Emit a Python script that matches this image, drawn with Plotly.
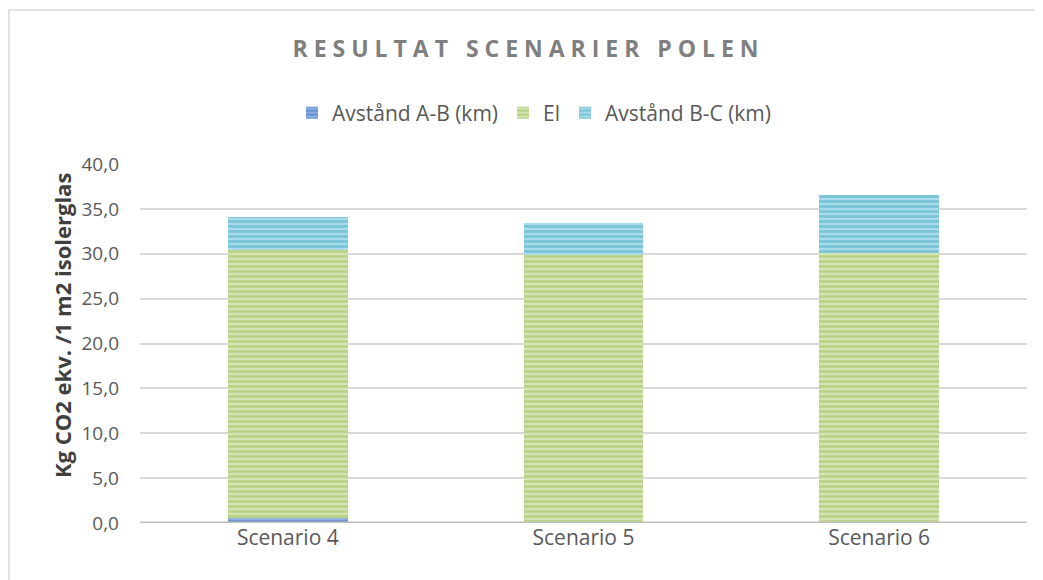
import plotly.graph_objects as go

categories = ["Scenario 4", "Scenario 5", "Scenario 6"]
series_names = ["Avstånd A-B (km)", "El", "Avstånd B-C (km)"]
avstand_ab = [0.6, 0.0, 0.0]
el = [29.8, 29.9, 30.1]
avstand_bc = [3.7, 3.5, 6.5]
tick_vals = [0, 5, 10, 15, 20, 25, 30, 35, 40]
y_title = "Kg CO2 ekv. /1 m2 isolerglas"

series_values = [avstand_ab, el, avstand_bc]
base_colors = ["#8FB0E0", "#D4E5B3", "#A9DCEA"]
fg_colors = ["#4472C4", "#9DC05A", "#4BACC6"]

fig = go.Figure()
for name, vals, bc, fc in zip(series_names, series_values, base_colors, fg_colors):
    fig.add_trace(go.Bar(
        name=name, x=categories, y=vals,
        marker=dict(color=bc, line=dict(width=0),
                    pattern=dict(shape="-", fgcolor=fc, bgcolor=bc, size=5, solidity=0.55)),
    ))

# page has an 8px body margin; figure drawn in a 1035x572 box offset by 8px
OFF = 8
W, H = 1043 - OFF, 580 - OFF
L, R, T, B = 140 - OFF, 16, 164 - OFF, 57
pw = W - L - R
ph = H - T - B

title_txt = "RESULTAT SCENARIER POLEN"
spaced = "\u00a0\u00a0 ".join("\u00a0".join(list(w)) for w in title_txt.split(" "))

fig.update_layout(
    width=W, height=H,
    barmode="stack", bargap=0.595,
    separators=", ",
    paper_bgcolor="white", plot_bgcolor="white",
    margin=dict(l=L, r=R, t=T, b=B, pad=0),
    font=dict(family="Open Sans, Noto Sans, sans-serif", color="#595959", size=18),
    title=dict(
        text="<b>" + spaced + "</b>",
        x=0.5, xanchor="center", y=1 - (49 - OFF) / H, yanchor="middle",
        font=dict(size=23, color="#7F7F7F", family="Open Sans, sans-serif"),
    ),
    legend=dict(orientation="h", x=(534 - 140) / pw, xanchor="center", y=1 + (164 - 113) / ph, yanchor="middle",
                font=dict(size=21, color="#595959"), traceorder="normal"),
    xaxis=dict(showgrid=False, showline=False, ticks="", tickfont=dict(size=21)),
    yaxis=dict(range=[0, 40], tickvals=tick_vals, tickformat=".1f",
               showgrid=True, gridcolor="#D9D9D9", gridwidth=2,
               zeroline=False, showline=False, ticks="", ticklabelstandoff=20,
               tickfont=dict(size=19)),
    annotations=[
        dict(text="<b>" + y_title + "</b>", textangle=-90, showarrow=False,
             xref="paper", yref="paper", x=(62 - 140) / pw, y=(523 - 326) / ph,
             xanchor="center", yanchor="middle",
             font=dict(size=22, color="#404040")),
    ],
    shapes=[
        dict(type="line", xref="paper", yref="y", x0=0, x1=1, y0=0, y1=0,
             line=dict(color="#BFBFBF", width=3), layer="above"),
        dict(type="rect", xref="paper", yref="paper",
             x0=(9 - 140) / pw, x1=(1050 - 140) / pw,
             y0=-(B + 10) / ph, y1=1 + (164 - 10) / ph,
             line=dict(color="#D9D9D9", width=1.5), fillcolor="rgba(0,0,0,0)", layer="below"),
    ],
)

fig.write_html("out.html")
